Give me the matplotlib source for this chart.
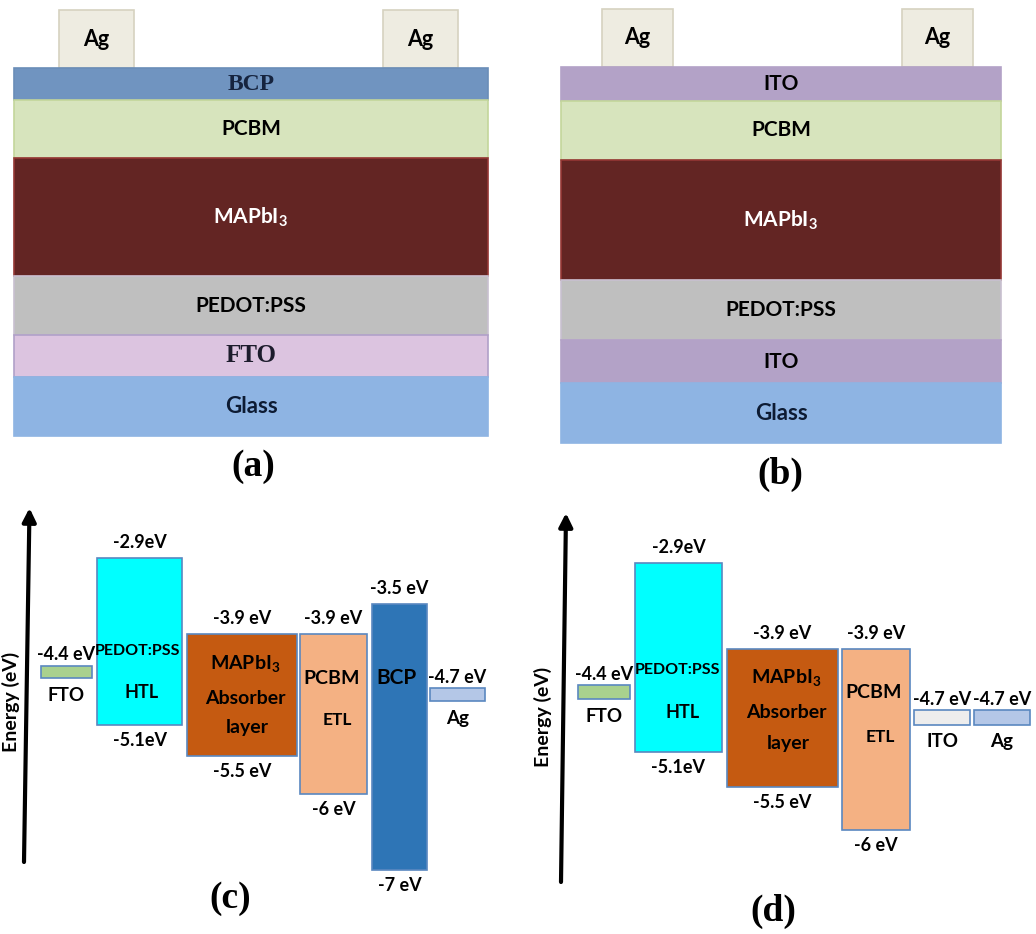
import matplotlib
matplotlib.use("Agg")
import matplotlib.pyplot as plt
import numpy as np

# ---------------------------------------------------------------- data
# Device stacks, layers listed from top to bottom (schematic thicknesses)
stack_a_layers = ["BCP", "PCBM", "MAPbI3", "PEDOT:PSS", "FTO", "Glass"]
stack_a_thick = [32, 58, 118, 59, 42, 59]
stack_b_layers = ["ITO", "PCBM", "MAPbI3", "PEDOT:PSS", "ITO", "Glass"]
stack_b_thick = [34, 59, 120, 60, 43, 60]
contact_name = "Ag"
contact_thick = 58

# Band diagram (c): transport layers (LUMO / HOMO, eV) and electrodes (work function, eV)
c_layers = ["PEDOT:PSS", "MAPbI3", "PCBM", "BCP"]
c_lumo = [-2.9, -3.9, -3.9, -3.5]
c_homo = [-5.1, -5.5, -6.0, -7.0]
c_electrodes = ["FTO", "Ag"]
c_wf = [-4.4, -4.7]

# Band diagram (d)
d_layers = ["PEDOT:PSS", "MAPbI3", "PCBM"]
d_lumo = [-2.9, -3.9, -3.9]
d_homo = [-5.1, -5.5, -6.0]
d_electrodes = ["FTO", "ITO", "Ag"]
d_wf = [-4.4, -4.7, -4.7]

panel_tags = ["(a)", "(b)", "(c)", "(d)"]

# ---------------------------------------------------------------- style
W, H, DPI = 1036, 934, 100
SANS = "Lato"
SERIF = "Liberation Serif"
plt.rcParams["font.family"] = [SANS, "DejaVu Sans"]
plt.rcParams["mathtext.fontset"] = "custom"
plt.rcParams["mathtext.rm"] = "Lato:bold"
plt.rcParams["mathtext.it"] = "Lato:bold"
plt.rcParams["mathtext.bf"] = "Lato:bold"

stack_style = {
    "BCP":       dict(fc="#7094c0", ec="#6a8db8", tc="#16243f", font=SERIF, size=17),
    "PCBM":      dict(fc="#d7e4bd", ec="#c3d69b", tc="black", font=SANS, size=15),
    "MAPbI3":    dict(fc="#632523", ec="#953735", tc="white", font=SANS, size=15),
    "PEDOT:PSS": dict(fc="#bfbfbf", ec="#c8c0d0", tc="black", font=SANS, size=15),
    "FTO":       dict(fc="#dcc4e0", ec="#b0a0c8", tc="#1c1c2c", font=SERIF, size=18),
    "ITO":       dict(fc="#b3a2c7", ec="#b3a2c7", tc="black", font=SANS, size=15),
    "Glass":     dict(fc="#8eb4e3", ec="#8eb4e3", tc="#0d1b33", font=SANS, size=16),
}

band_style = {
    "PEDOT:PSS": "#00ffff",
    "MAPbI3": "#c55a11",
    "PCBM": "#f4b183",
    "BCP": "#2e75b6",
    "FTO": "#a9d18e",
    "Ag": "#b4c7e7",
    "ITO": "#ededed",
}
band_edge = "#5a88c0"


def pretty(name):
    return "MAPbI$_3$" if name == "MAPbI3" else name


fig = plt.figure(figsize=(W / DPI, H / DPI), dpi=DPI)

# Full-figure axes in pixel units (y downward) for the schematics and annotations
base = fig.add_axes([0, 0, 1, 1])
base.set_xlim(0, W)
base.set_ylim(H, 0)
base.axis("off")


def draw_stack(ax, layers, thick, x0, x1, top, contact_x, contact_w):
    thick = np.asarray(thick, dtype=float)
    bottoms = top + np.concatenate([[0], np.cumsum(thick)[:-1]])
    xc = (x0 + x1) / 2
    for name, b, t in zip(layers, bottoms, thick):
        st = stack_style[name]
        ax.bar(xc, t, bottom=b, width=x1 - x0, color=st["fc"],
               edgecolor=st["ec"], linewidth=1.2, zorder=2)
        ax.text(xc, b + t / 2, pretty(name), ha="center", va="center",
                fontsize=st["size"], fontweight="bold", color=st["tc"],
                family=[st["font"], "DejaVu Sans"], zorder=3)
    # silver contacts sitting on top of the stack
    ax.bar(contact_x, contact_thick, bottom=top - contact_thick, width=contact_w,
           color="#eeece1", edgecolor="#d6d2c0", linewidth=1.2, zorder=1)
    for cx in contact_x:
        ax.text(cx, top - contact_thick / 2, contact_name, ha="center",
                va="center", fontsize=15.5, fontweight="bold", color="black",
                zorder=3)


draw_stack(base, stack_a_layers, stack_a_thick, 14, 488, 68, [96, 420], 75)
draw_stack(base, stack_b_layers, stack_b_thick, 561, 1001, 67, [637, 937], 71)


def band_panel(box, e_top, px_top, px_per_ev, layers, lumo, homo, xs, ws,
               seps_l, seps_h, electrodes, wf, exs, ew, inner):
    x0, y0, x1, y1 = box
    ax = fig.add_axes([x0 / W, 1 - y1 / H, (x1 - x0) / W, (y1 - y0) / H])
    ax.patch.set_alpha(0)
    ax.set_xlim(x0, x1)
    e_of = lambda py: e_top - (py - px_top) / px_per_ev
    ax.set_ylim(e_of(y1), e_of(y0))
    ax.axis("off")

    lumo = np.asarray(lumo)
    homo = np.asarray(homo)
    ax.bar(xs, homo - lumo, bottom=lumo, width=ws,
           color=[band_style[n] for n in layers], edgecolor=band_edge,
           linewidth=1.2, zorder=2)
    for x, lo, hi, sl, sh in zip(xs, lumo, homo, seps_l, seps_h):
        ax.annotate(f"{lo:g}{sl}eV", (x, lo), xytext=(0, 5),
                    textcoords="offset points", ha="center", va="bottom",
                    fontsize=13, fontweight="bold")
        ax.annotate(f"{hi:g}{sh}eV", (x, hi), xytext=(0, -5),
                    textcoords="offset points", ha="center", va="top",
                    fontsize=13, fontweight="bold")

    thin = 0.17
    wf = np.asarray(wf)
    ax.bar(exs, thin, bottom=wf - thin / 2, width=ew,
           color=[band_style[n] for n in electrodes], edgecolor=band_edge,
           linewidth=1.2, zorder=2)
    for x, v, n in zip(exs, wf, electrodes):
        ax.annotate(f"{v:g} eV", (x, v + thin / 2), xytext=(0, 1.5),
                    textcoords="offset points", ha="center", va="bottom",
                    fontsize=13, fontweight="bold")
        ax.annotate(n, (x, v - thin / 2), xytext=(0, -6),
                    textcoords="offset points", ha="center", va="top",
                    fontsize=13.5, fontweight="bold")

    for s, px, py, size in inner:
        ax.text(px, py, s, ha="center", va="center", fontsize=size,
                fontweight="bold", transform=base.transData, zorder=3)
    return ax


inner_c = [("PEDOT:PSS", 138, 651, 11.5), ("HTL", 142, 692, 13),
           ("MAPbI$_3$", 245, 663, 14), ("Absorber", 245, 698, 14),
           ("layer", 247, 727, 14), ("PCBM", 332, 678, 14),
           ("ETL", 337, 720, 12.5), ("BCP", 396, 678, 15)]
band_panel((0, 500, 520, 934), -2.9, 558, 76, c_layers, c_lumo, c_homo,
           [139.5, 242, 333.5, 399.5], [85, 110, 67, 55],
           ["", " ", " ", " "], ["", " ", " ", " "],
           c_electrodes, c_wf, [66.5, 457.5], [51, 55], inner_c)

inner_d = [("PEDOT:PSS", 678, 670, 11.5), ("HTL", 683, 713, 13),
           ("MAPbI$_3$", 786, 677, 14), ("Absorber", 786, 713, 14),
           ("layer", 788, 743, 14), ("PCBM", 874, 692, 14),
           ("ETL", 880, 737, 12.5)]
band_panel((520, 500, 1036, 934), -2.9, 563, 86, d_layers, d_lumo, d_homo,
           [678.5, 782.5, 876], [87, 111, 68],
           ["", " ", " "], ["", " ", " "],
           d_electrodes, d_wf, [604, 942, 1002], [52, 56, 56], inner_d)

# Energy axes arrows and titles
for (xb, yb, xt, yt), lx, ly in [((24, 862, 29.5, 508), 11, 702),
                                  ((561, 882, 566, 513), 543, 717)]:
    base.annotate("", xy=(xt, yt), xytext=(xb, yb),
                  arrowprops=dict(arrowstyle="-|>,head_width=0.4,head_length=0.8",
                                  lw=3, color="black", shrinkA=0, shrinkB=0))
    base.text(lx, ly, "Energy (eV)", rotation=90, ha="center", va="center",
              fontsize=14, fontweight="bold")

# Panel tags
for tag, (tx, ty) in zip(panel_tags, [(253, 466), (780, 474), (230, 898), (773, 911)]):
    base.text(tx, ty, tag, ha="center", va="center", fontsize=27,
              fontweight="bold", family=[SERIF, "DejaVu Serif"])

fig.savefig("out.png", dpi=DPI, facecolor="white")
